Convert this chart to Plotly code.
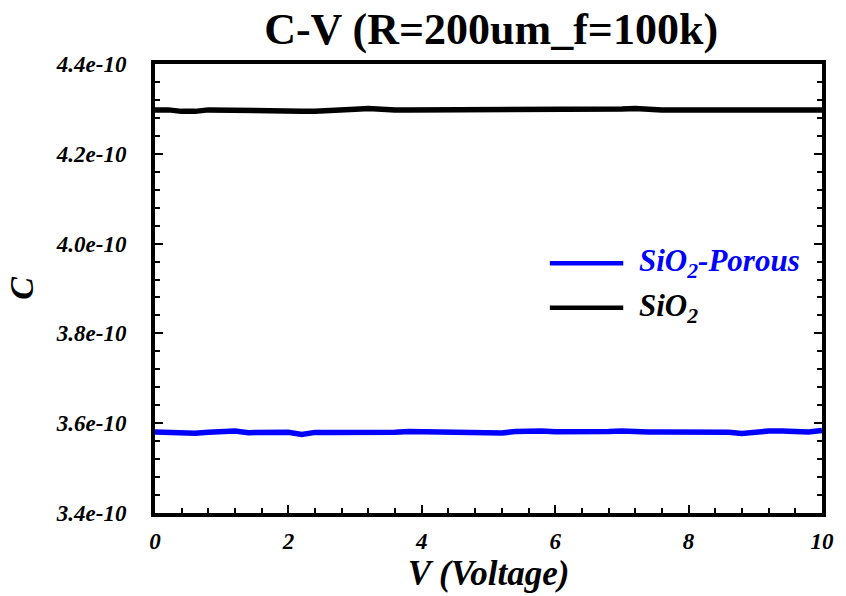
import plotly.graph_objects as go

# Bias voltage sweep (V)
voltage = [round(0.2 * i, 1) for i in range(51)]

# Capacitance (units of 1e-10 F), SiO2 film
c_sio2_e10 = [
    4.2978, 4.2978, 4.2945, 4.2945, 4.2978, 4.2978, 4.2978, 4.2978, 4.2978, 4.2975,
    4.2970, 4.2950, 4.2945, 4.2950, 4.2975, 4.2990, 4.3010, 4.2980, 4.2978, 4.2978,
    4.2978, 4.2978, 4.2978, 4.2978, 4.2978, 4.2978, 4.2978, 4.2978, 4.2978, 4.2978,
    4.2978, 4.2978, 4.2978, 4.2978, 4.2978, 4.2995, 4.3010, 4.2980, 4.2978, 4.2978,
    4.2978, 4.2978, 4.2978, 4.2978, 4.2978, 4.2978, 4.2985, 4.2998, 4.2998, 4.2998,
    4.2975,
]

# Capacitance (units of 1e-10 F), porous SiO2 film
c_porous_e10 = [
    3.5803, 3.5790, 3.5775, 3.5775, 3.5800, 3.5826, 3.5826, 3.5790, 3.5790, 3.5800,
    3.5800, 3.5750, 3.5795, 3.5795, 3.5795, 3.5790, 3.5775, 3.5790, 3.5800, 3.5815,
    3.5810, 3.5805, 3.5815, 3.5825, 3.5810, 3.5800, 3.5780, 3.5815, 3.5826, 3.5826,
    3.5810, 3.5805, 3.5805, 3.5805, 3.5815, 3.5826, 3.5805, 3.5805, 3.5805, 3.5805,
    3.5820, 3.5826, 3.5820, 3.5800, 3.5770, 3.5805, 3.5826, 3.5826, 3.5805, 3.5805,
    3.5839,
]

c_sio2 = [v * 1e-10 for v in c_sio2_e10]
c_porous = [v * 1e-10 for v in c_porous_e10]

y_ticks = [3.4e-10, 3.6e-10, 3.8e-10, 4.0e-10, 4.2e-10, 4.4e-10]
y_tick_text = ["3.4e-10", "3.6e-10", "3.8e-10", "4.0e-10", "4.2e-10", "4.4e-10"]
x_ticks = [0, 2, 4, 6, 8, 10]

series_names = ["SiO<sub>2</sub>-Porous", "SiO<sub>2</sub>"]
series_colors = ["#0000ff", "#000000"]

serif = "Liberation Serif, Times New Roman, serif"

fig = go.Figure()
for name, color, ys in zip(series_names, series_colors, [c_porous, c_sio2]):
    fig.add_trace(go.Scatter(
        x=voltage, y=ys, mode="lines", name=name,
        line=dict(color=color, width=5.5),
        showlegend=False,
    ))

# Key drawn inside the plot area: a short line sample followed by its label
key_rows_y = [0.556, 0.457]
for name, color, ky in zip(series_names, series_colors, key_rows_y):
    fig.add_shape(type="line", xref="paper", yref="paper",
                  x0=0.592, x1=0.702, y0=ky, y1=ky,
                  line=dict(color=color, width=4.5))
    fig.add_annotation(xref="paper", yref="paper", x=0.722, y=ky,
                       xanchor="left", yanchor="middle", showarrow=False,
                       text=f"<b><i>{name}</i></b>",
                       font=dict(family=serif, size=31, color=color))

fig.update_layout(
    width=846, height=596,
    margin=dict(l=155, r=18, t=64, b=83),
    paper_bgcolor="white", plot_bgcolor="white",
    showlegend=False,
    title=dict(
        text="<b>C-V (R=200um_f=100k)</b>",
        font=dict(family=serif, size=44, color="black"),
        x=0.5805, xanchor="center", y=0.978, yanchor="top",
    ),
)

fig.update_xaxes(
    range=[0, 10], tickvals=x_ticks,
    ticks="inside", ticklen=8, tickwidth=2, tickcolor="black",
    minor=dict(dtick=0.4, ticks="inside", ticklen=5, tickwidth=2, tickcolor="black"),
    showline=True, linewidth=4, linecolor="black", mirror=True,
    showgrid=False, zeroline=False,
    ticklabelstandoff=4,
    tickfont=dict(family=serif, size=23, color="black", weight="bold", style="italic"),
    title=dict(text="<b><i>V (Voltage)</i></b>",
               font=dict(family=serif, size=35, color="black"), standoff=6),
)
fig.update_yaxes(
    range=[3.4e-10, 4.4e-10], tickvals=y_ticks, ticktext=y_tick_text,
    ticks="inside", ticklen=8, tickwidth=2, tickcolor="black",
    minor=dict(dtick=0.04e-10, ticks="inside", ticklen=5, tickwidth=2, tickcolor="black"),
    showline=True, linewidth=4, linecolor="black", mirror="ticks",
    showgrid=False, zeroline=False,
    ticklabelstandoff=20,
    tickfont=dict(family=serif, size=23, color="black", weight="bold", style="italic"),
    title=dict(text="<b><i>C</i></b>",
               font=dict(family=serif, size=34, color="black"), standoff=13),
)

fig.write_html("out.html")
